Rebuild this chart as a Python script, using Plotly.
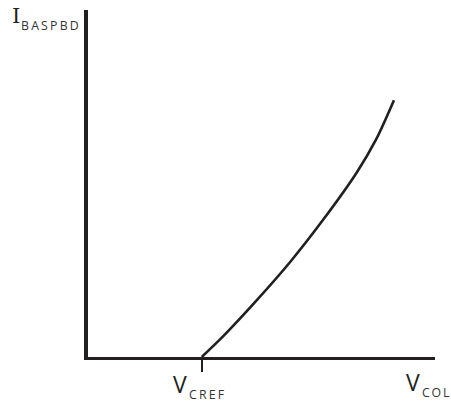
import plotly.graph_objects as go

# Data (V_COL in units of V_CREF, I_BASPBD normalised)
v_col = [1.0, 1.189, 1.482, 1.775, 2.068, 2.361, 2.537, 2.689]
i_baspbd = [0.0, 0.060, 0.163, 0.273, 0.396, 0.531, 0.630, 0.740]
v_cref = 1.0
x_max = 3.05
y_max = 1.0

W, H = 451, 403
ML, MR, MT, MB = 88, 16, 10, 45.5
PW, PH = W - ML - MR, H - MT - MB
INK = "#231f20"

def px(x):
    return (x - ML) / PW

def py(y):
    return (H - MB - y) / PH

fig = go.Figure()
fig.add_trace(go.Scatter(x=v_col, y=i_baspbd, mode="lines",
                         line=dict(color=INK, width=2.6, shape="spline", smoothing=0.8),
                         hoverinfo="skip", cliponaxis=False))

big = dict(family="Open Sans, sans-serif", size=23, color=INK)
small = dict(family="Open Sans, sans-serif", size=12.3, color="#333333")
serif = dict(family="DejaVu Serif, serif", size=21, color=INK)

def sp(t, s=2.2):
    return "<span style='letter-spacing:%.1fpx'>%s</span>" % (s, t)

labels = [
    ("I", 11, 16.3, serif),
    (sp("BASPBD"), 20, 25.3, small),
    ("V", 171.5, 385.0, big),
    (sp("CREF"), 188.0, 395.2, small),
    ("V", 404.5, 382.5, big),
    (sp("COL", 1.8), 420.5, 393.5, small),
]
for t, x, y, f in labels:
    fig.add_annotation(text=t, x=px(x), y=py(y), xref="paper", yref="paper",
                       xanchor="left", yanchor="middle", showarrow=False,
                       borderpad=0, font=f)

fig.update_layout(
    width=W, height=H, margin=dict(l=ML, r=MR, t=MT, b=MB, autoexpand=False),
    plot_bgcolor="white", paper_bgcolor="white", showlegend=False,
    xaxis=dict(range=[0, x_max], showgrid=False, zeroline=False, showline=True,
               linecolor=INK, linewidth=2.5, tickvals=[v_cref], ticktext=[""],
               ticks="outside", ticklen=12, tickwidth=2, tickcolor=INK, fixedrange=True),
    yaxis=dict(range=[0, y_max], showgrid=False, zeroline=False, showline=True,
               linecolor=INK, linewidth=4, showticklabels=False, ticks="", fixedrange=True),
)
fig.write_html("out.html", config={"displayModeBar": False},
               post_script="document.body.style.margin='0';document.body.style.overflow='hidden';")
